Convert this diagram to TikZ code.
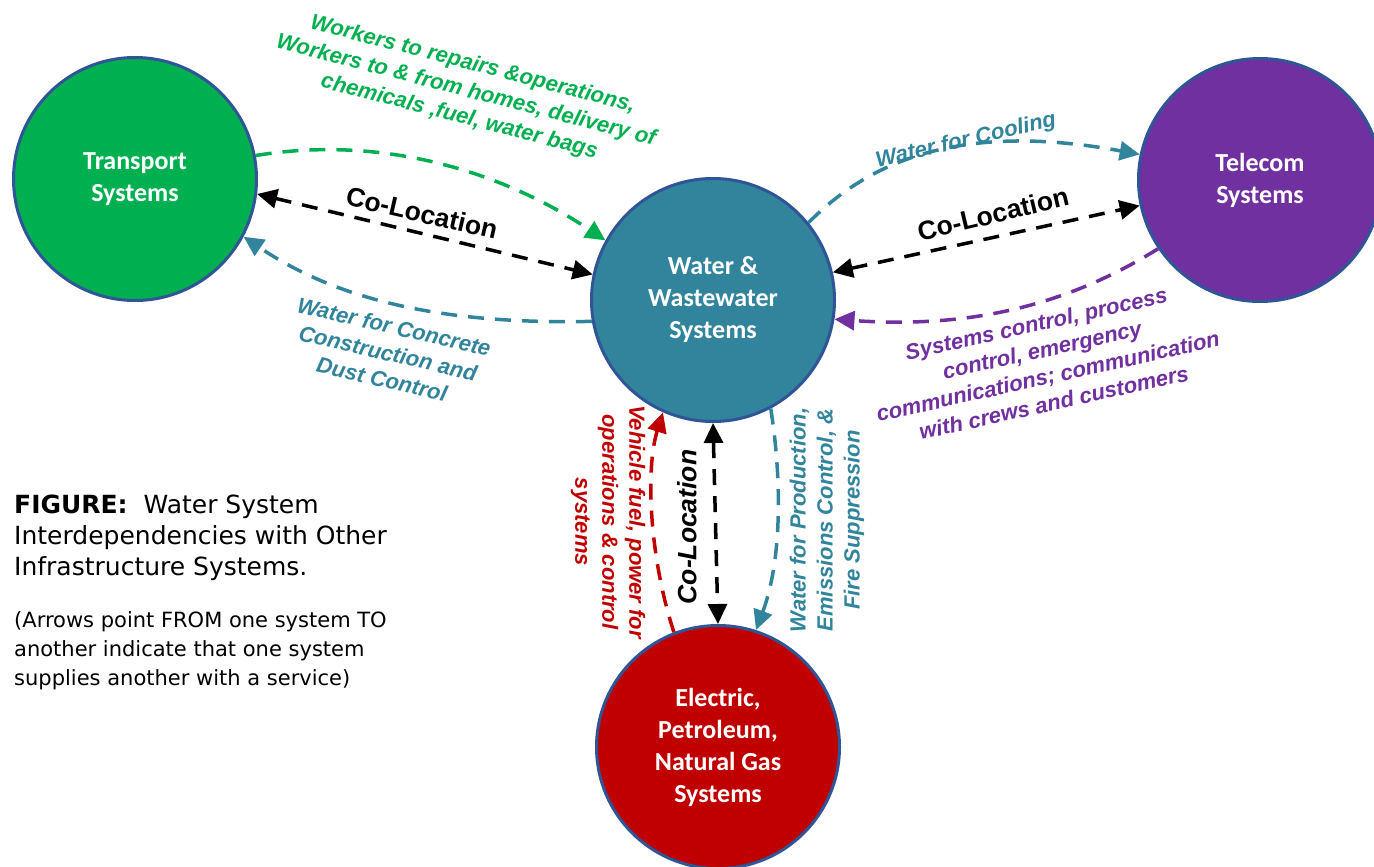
\documentclass[tikz,border=0pt]{standalone}
\usepackage{fontspec}
\setmainfont{Liberation Sans}
\newfontfamily\calibri{Carlito}
\newfontfamily\capfont{DejaVu Sans}
\usepackage{tikz}
\usetikzlibrary{arrows.meta}
\definecolor{sysgreen}{HTML}{00B050}
\definecolor{systeal}{HTML}{31849B}
\definecolor{syspurple}{HTML}{7030A0}
\definecolor{sysred}{HTML}{C00000}
\definecolor{rim}{HTML}{2F5597}
\tikzset{System/.style={draw=rim, line width=3pt, circle, minimum size=243pt, inner sep=0pt, align=center, text=white, font=\calibri\bfseries\fontsize{26}{32}\selectfont}}
\tikzset{Dep Edge/.style={draw, line width=3.5pt, dash pattern=on 16pt off 11pt, -{Triangle[length=20pt,width=19pt]}}}
\tikzset{Co Edge/.style={Dep Edge, black, {Triangle[length=20pt,width=19pt]}-{Triangle[length=20pt,width=19pt]}}}
\tikzset{Note/.style={align=center, font=\bfseries\itshape\fontsize{22}{27}\selectfont}}
\tikzset{Co Note/.style={font=\bfseries\fontsize{26.5}{32}\selectfont}}

\begin{document}
\begin{tikzpicture}[x=1pt, y=-1pt]
\useasboundingbox (0,0) rectangle (1374,867);
\node[System, fill=sysgreen] (transport) at (135,179) {Transport\\Systems};
\node[System, fill=systeal] (water) at (713,300) {Water \&\\Wastewater\\Systems};
\node[System, fill=syspurple] (telecom) at (1260,180) {Telecom\\Systems};
\node[System, fill=sysred] (energy) at (718,747) {Electric,\\Petroleum,\\Natural Gas\\Systems};

\node[Note, text=sysgreen, rotate=-14.5] (workers) at (466,91) {Workers to repairs \&operations,\\Workers to \& from homes, delivery of\\chemicals ,fuel, water bags};
\node[Co Note, rotate=-13] (coloc-a) at (422,213) {Co-Location};
\node[Note, text=systeal, rotate=-13] (concrete) at (388,353) {Water for Concrete\\Construction and\\Dust Control};
\node[Note, text=systeal, rotate=13] (cooling) at (966,141) {Water for Cooling};
\node[Co Note, rotate=13.5] (coloc-b) at (993,214) {Co-Location};
\node[Note, text=syspurple, rotate=12.5] (control) at (1045,363) {Systems control, process\\control, emergency\\communications; communication\\with crews and customers};
\node[Note, text=sysred, rotate=-90] (fuel) at (608,522) {Vehicle fuel, power for\\operations \& control\\systems};
\node[Co Note, rotate=90, font=\bfseries\itshape\fontsize{26.5}{32}\selectfont] (coloc-c) at (687,527) {Co-Location};
\node[Note, text=systeal, rotate=90] (production) at (827,520) {Water for Production,\\Emissions Control, \&\\Fire Suppression};

\node[anchor=base west, align=left, inner sep=0pt, font=\capfont\fontsize{25}{31}\selectfont] (caption) at (14,575) {\textbf{FIGURE:}\ \ Water System\\Interdependencies with Other\\Infrastructure Systems.};
\node[anchor=base west, align=left, inner sep=0pt, font=\capfont\fontsize{21}{29}\selectfont] (remark) at (14,685) {(Arrows point FROM one system TO\\another indicate that one system\\supplies another with a service)};

\draw[Dep Edge, sysgreen] (transport.11) .. controls (380,135) and (500,170) .. (water.151);
\draw[Co Edge] (transport.-7) -- (water.168);
\draw[Dep Edge, systeal] (water.190) .. controls (430,325) and (330,295) .. (transport.-28);
\draw[Dep Edge, systeal] (water.39) .. controls (880,150) and (980,125) .. (telecom.168);
\draw[Co Edge] (water.13) -- (telecom.192);
\draw[Dep Edge, syspurple] (telecom.214) .. controls (1060,310) and (960,328) .. (water.-9);
\draw[Dep Edge, sysred] (energy.111) .. controls (650,560) and (645,470) .. (water.246);
\draw[Co Edge] (water.south) -- (energy.north);
\draw[Dep Edge, systeal] (water.-62) .. controls (782,480) and (782,560) .. (energy.72);
\end{tikzpicture}
\end{document}
